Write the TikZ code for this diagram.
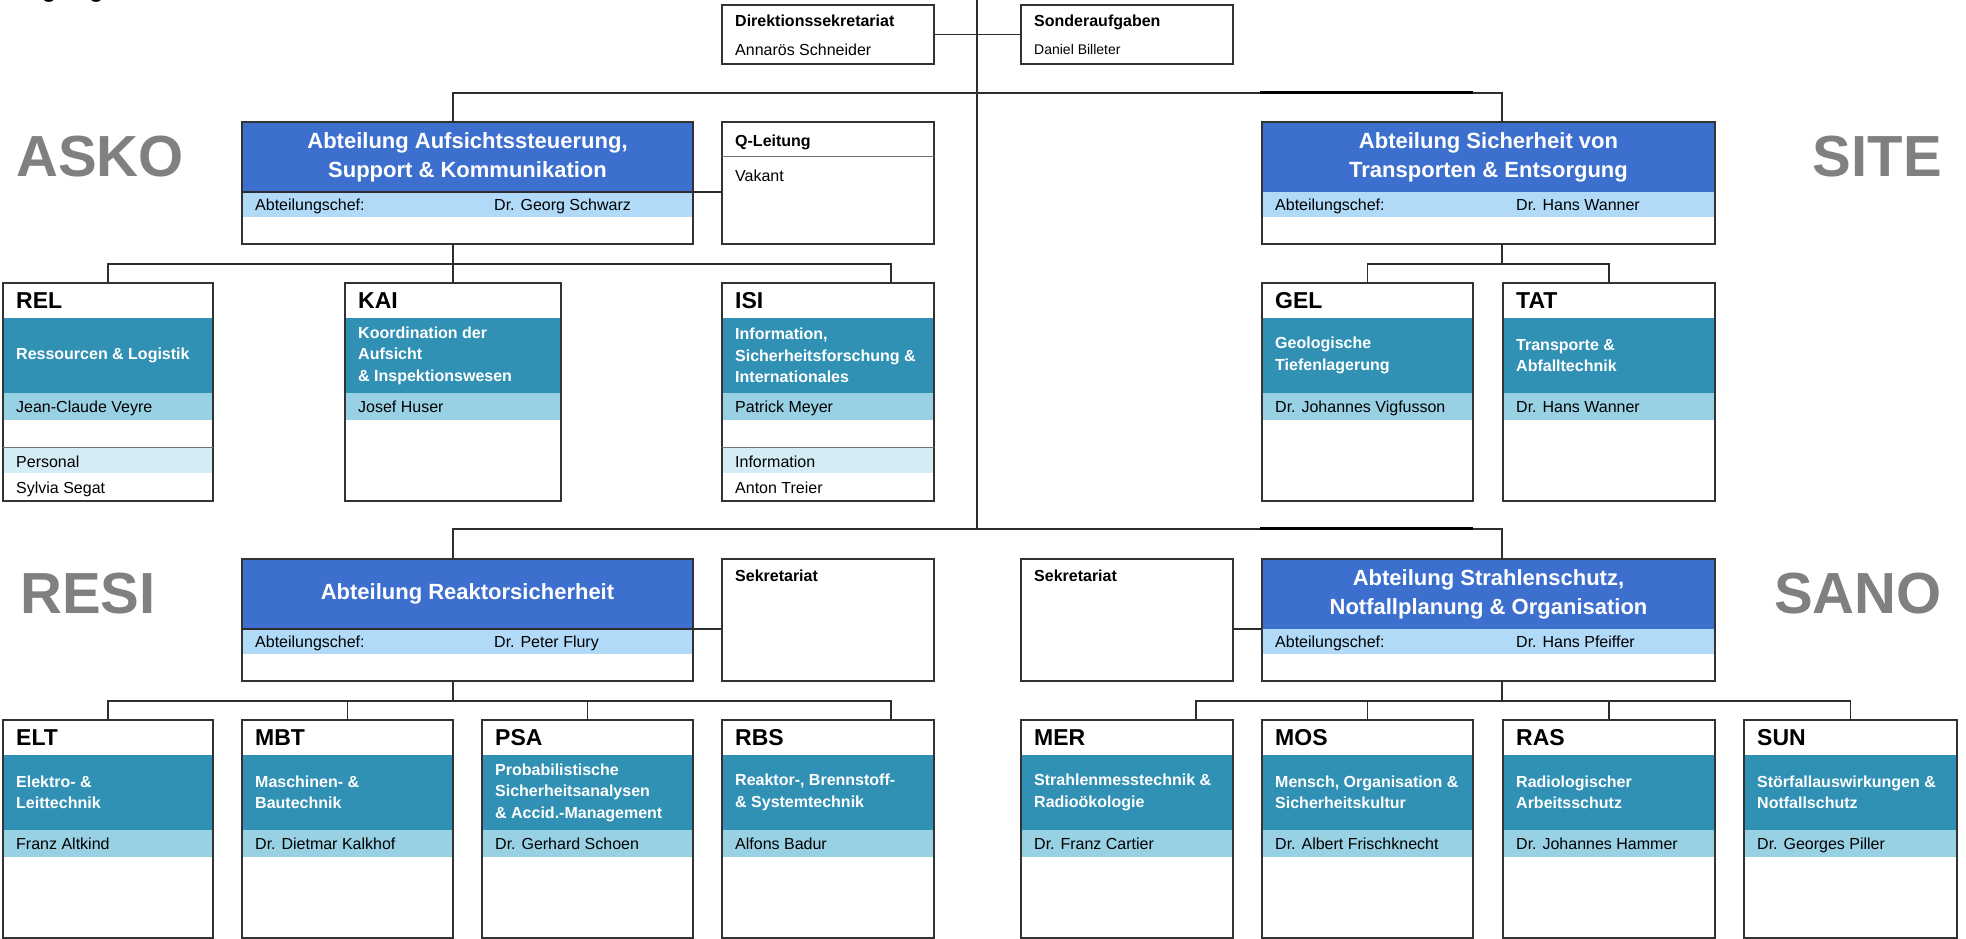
\documentclass[tikz,border=0pt]{standalone}
\usepackage{fontspec}
\setmainfont{Liberation Sans}
\usetikzlibrary{calc}
\definecolor{hblue}{HTML}{3D6FCF}
\definecolor{lblue}{HTML}{B0DAF8}
\definecolor{tealc}{HTML}{3191B4}
\definecolor{lteal}{HTML}{99D1E4}
\definecolor{palec}{HTML}{D4ECF6}
\definecolor{labgray}{HTML}{808080}
\tikzset{
  frame/.style={draw=black!80, line width=1.6pt, inner sep=0pt, outer sep=0pt, rectangle},
  hdr/.style={fill=hblue, minimum height=70pt, inner sep=0pt, outer sep=0pt, rectangle},
  conn/.style={draw=black!82, line width=1.5pt},
  divline/.style={draw=black!55, line width=1pt},
  txt/.style={inner sep=0pt, font=\fontsize{16}{19}\selectfont},
  txtb/.style={inner sep=0pt, font=\bfseries\fontsize{16}{19}\selectfont},
  txts/.style={inner sep=0pt, font=\fontsize{14}{17}\selectfont},
  codetxt/.style={inner sep=0pt, font=\bfseries\fontsize{23}{27}\selectfont},
  topic/.style={inner sep=0pt, text=white, align=left, font=\bfseries\fontsize{16}{21.5}\selectfont},
  htitle/.style={inner sep=0pt, text=white, align=center, font=\bfseries\fontsize{22}{29}\selectfont},
  biglab/.style={inner sep=0pt, text=labgray, font=\bfseries\fontsize{58}{60}\selectfont},
  toplab/.style={inner sep=0pt, font=\bfseries\fontsize{23}{26}\selectfont}
}
% #1 name, #2 x, #3 y, #4 width, #5 title, #6 chief offset, #7 chief
\newcommand\orgdept[7]{%
  \node[hdr, minimum width=#4pt, anchor=north west] (#1H) at (#2,#3) {};
  \node[htitle] (#1T) at (#1H.center) {#5};
  \fill[lblue] (#2,#3+70) rectangle ++(#4,25);
  \node[frame, minimum width=#4pt, minimum height=122pt, anchor=north west] (#1) at (#2,#3) {};
  \node[txt, anchor=base west] (#1A) at (#2+13,#3+88.5) {Abteilungschef:};
  \node[txt, anchor=base west] (#1N) at (#2+#6,#3+88.5) {#7};
}
% #1 name, #2 x, #3 y, #4 width, #5 code, #6 topic, #7 person
\newcommand\orgunit[7]{%
  \fill[tealc] (#2,#3+35) rectangle ++(#4,75);
  \fill[lteal] (#2,#3+110) rectangle ++(#4,27);
  \node[frame, minimum width=#4pt, minimum height=218pt, anchor=north west] (#1) at (#2,#3) {};
  \node[codetxt, anchor=base west] (#1C) at (#2+13,#3+25.5) {#5};
  \node[topic, anchor=west] (#1T) at (#2+13,#3+72.5) {#6};
  \node[txt, anchor=base west] (#1N) at (#2+13,#3+129.5) {#7};
}
\begin{document}
\begin{tikzpicture}[x=1pt,y=-1pt]
\path[use as bounding box] (0,0) rectangle (1966,939);
\clip (0,0) rectangle (1966,939);
\fill[white] (0,0) rectangle (1966,939);

% cut-off heading at top left (only its descenders fall inside the picture)
\node[toplab, anchor=base west] (head) at (15,-2.5) {Organigramm};

% big side labels
\node[biglab, anchor=base west] (lASKO) at (16,177) {ASKO};
\node[biglab, anchor=base east] (lSITE) at (1942,177) {SITE};
\node[biglab, anchor=base west] (lRESI) at (20,613) {RESI};
\node[biglab, anchor=base east] (lSANO) at (1942,613) {SANO};

% staff boxes at top
\node[frame, minimum width=212pt, minimum height=59pt, anchor=north west] (dir) at (722,5) {};
\node[txtb, anchor=base west] (dirT) at (735,26.7) {Direktionssekretariat};
\node[txt, anchor=base west] (dirN) at (735,55.7) {Annarös Schneider};
\node[frame, minimum width=212pt, minimum height=59pt, anchor=north west] (son) at (1021,5) {};
\node[txtb, anchor=base west] (sonT) at (1034,26.7) {Sonderaufgaben};
\node[txts, anchor=base west] (sonN) at (1034,55) {Daniel Billeter};

% departments
\orgdept{asko}{242}{122}{451}{Abteilung Aufsichtssteuerung,\\Support \& Kommunikation}{252}{Dr. Georg Schwarz}
\orgdept{site}{1262}{122}{453}{Abteilung Sicherheit von\\Transporten \& Entsorgung}{254}{Dr. Hans Wanner}
\orgdept{resi}{242}{559}{451}{Abteilung Reaktorsicherheit}{252}{Dr. Peter Flury}
\orgdept{sano}{1262}{559}{453}{Abteilung Strahlenschutz,\\Notfallplanung \& Organisation}{254}{Dr. Hans Pfeiffer}

% Q-Leitung and secretariats
\node[frame, minimum width=212pt, minimum height=122pt, anchor=north west] (qlt) at (722,122) {};
\draw[divline] ($(qlt.north west)+(0,35)$) -- ($(qlt.north east)+(0,35)$);
\node[txtb, anchor=base west] (qltT) at (735,146.7) {Q-Leitung};
\node[txt, anchor=base west] (qltN) at (735,181.7) {Vakant};
\node[frame, minimum width=212pt, minimum height=122pt, anchor=north west] (sekA) at (722,559) {};
\node[txtb, anchor=base west] (sekAT) at (735,581.7) {Sekretariat};
\node[frame, minimum width=212pt, minimum height=122pt, anchor=north west] (sekB) at (1021,559) {};
\node[txtb, anchor=base west] (sekBT) at (1034,581.7) {Sekretariat};

% units, middle row (REL and ISI with extra band first)
\fill[palec] (3,447) rectangle ++(210,26);
\fill[palec] (722,447) rectangle ++(212,26);
\orgunit{rel}{3}{283}{210}{REL}{Ressourcen \& Logistik}{Jean-Claude Veyre}
\orgunit{kai}{345}{283}{216}{KAI}{Koordination der\\Aufsicht\\\& Inspektionswesen}{Josef Huser}
\orgunit{isi}{722}{283}{212}{ISI}{Information,\\Sicherheitsforschung \&\\Internationales}{Patrick Meyer}
\orgunit{gel}{1262}{283}{211}{GEL}{Geologische\\Tiefenlagerung}{Dr. Johannes Vigfusson}
\orgunit{tat}{1503}{283}{212}{TAT}{Transporte \&\\Abfalltechnik}{Dr. Hans Wanner}
\draw[divline] (3,447) -- ++(210,0);
\draw[divline] (722,447) -- ++(212,0);
\node[txt, anchor=base west] (relP) at (16,467) {Personal};
\node[txt, anchor=base west] (relS) at (16,493) {Sylvia Segat};
\node[txt, anchor=base west] (isiP) at (735,467) {Information};
\node[txt, anchor=base west] (isiS) at (735,493) {Anton Treier};

% units, bottom row
\orgunit{elt}{3}{720}{210}{ELT}{Elektro- \&\\Leittechnik}{Franz Altkind}
\orgunit{mbt}{242}{720}{211}{MBT}{Maschinen- \&\\Bautechnik}{Dr. Dietmar Kalkhof}
\orgunit{psa}{482}{720}{211}{PSA}{Probabilistische\\Sicherheitsanalysen\\\& Accid.-Management}{Dr. Gerhard Schoen}
\orgunit{rbs}{722}{720}{212}{RBS}{Reaktor-, Brennstoff-\\\& Systemtechnik}{Alfons Badur}
\orgunit{mer}{1021}{720}{212}{MER}{Strahlenmesstechnik \&\\Radioökologie}{Dr. Franz Cartier}
\orgunit{mos}{1262}{720}{211}{MOS}{Mensch, Organisation \&\\Sicherheitskultur}{Dr. Albert Frischknecht}
\orgunit{ras}{1503}{720}{212}{RAS}{Radiologischer\\Arbeitsschutz}{Dr. Johannes Hammer}
\orgunit{sun}{1744}{720}{213}{SUN}{Störfallauswirkungen \&\\Notfallschutz}{Dr. Georges Piller}

% connector end points
\coordinate (topC) at (977,0);
\coordinate (midC) at (977,529);
\path (asko.north west) ++(211,0) coordinate (askoIn);
\path (asko.south west) ++(211,0) coordinate (askoOut);
\path (site.north west) ++(240,0) coordinate (siteIn);
\path (site.south west) ++(240,0) coordinate (siteOut);
\path (resi.north west) ++(211,0) coordinate (resiIn);
\path (resi.south west) ++(211,0) coordinate (resiOut);
\path (sano.north west) ++(240,0) coordinate (sanoIn);
\path (sano.south west) ++(240,0) coordinate (sanoOut);
\path (isi.north west) ++(169,0) coordinate (isiIn);
\path (rbs.north west) ++(169,0) coordinate (rbsIn);
\path (mer.north west) ++(175,0) coordinate (merIn);

% connectors
\draw[conn] (topC) -- (midC);
\draw[conn] (dir.east) -- (son.west);
\draw[conn] (askoIn) -- ++(0,-29) -| (siteIn);
\draw[line width=3pt, black] (1260,92.5) -- (1473,92.5);
\draw[conn] (resiIn) -- ++(0,-30) -| (sanoIn);
\draw[line width=3pt, black] (1260,528.5) -- (1473,528.5);
\draw[conn] (askoH.south west) -- (askoH.south west -| qlt.west);
\draw[conn] (resiH.south west) -- (resiH.south west -| sekA.west);
\draw[conn] (sekB.east |- sanoH.south west) -- (sanoH.south west);

\draw[conn] (askoOut) -- (kai.north);
\draw[conn] (rel.north) -- ++(0,-19) -| (isiIn);
\draw[conn] (siteOut) -- ++(0,20);
\draw[conn] (gel.north) -- ++(0,-19) -| (tat.north);

\draw[conn] (resiOut) -- ++(0,20);
\draw[conn] (elt.north) -- ++(0,-19) -| (rbsIn);
\draw[conn] (mbt.north) -- ++(0,-19);
\draw[conn] (psa.north) -- ++(0,-19);
\draw[conn] (sanoOut) -- ++(0,20);
\draw[conn] (merIn) -- ++(0,-19) -| (sun.north);
\draw[conn] (mos.north) -- ++(0,-19);
\draw[conn] (ras.north) -- ++(0,-19);
\end{tikzpicture}
\end{document}
